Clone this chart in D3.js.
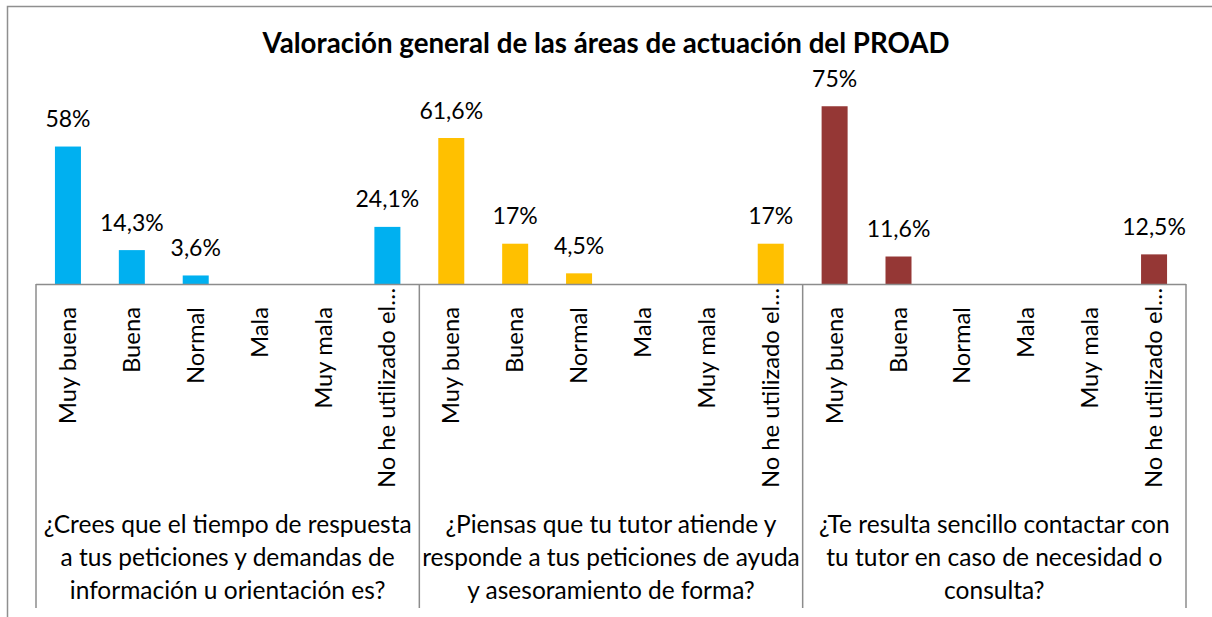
<!DOCTYPE html>
<html>
<head>
<meta charset="utf-8">
<script src="https://cdn.jsdelivr.net/npm/d3@7/dist/d3.min.js"></script>
<style>
  html, body { margin: 0; padding: 0; background: #fff; }
  svg { display: block; }
  text { font-family: Lato, "Open Sans", sans-serif; fill: #000; }
</style>
</head>
<body>
<svg id="chart" width="1212" height="617"></svg>
<script>
// Survey answers, percentage per rating option, one array per question
const title = "Valoración general de las áreas de actuación del PROAD";
const categories = ["Muy buena", "Buena", "Normal", "Mala", "Muy mala", "No he utilizado el…"];
const questions = [
  ["¿Crees que el tiempo de respuesta", "a tus peticiones y demandas de", "información u orientación es?"],
  ["¿Piensas que tu tutor atiende y", "responde a tus peticiones de ayuda", "y asesoramiento de forma?"],
  ["¿Te resulta sencillo contactar con", "tu tutor en caso de necesidad o", "consulta?"]
];
const tiempoRespuesta = [58, 14.3, 3.6, 0, 0, 24.1];
const atencionTutor = [61.6, 17, 4.5, 0, 0, 17];
const contactoTutor = [75, 11.6, 0, 0, 0, 12.5];
const seriesValues = [tiempoRespuesta, atencionTutor, contactoTutor];
const colors = ["#00B0F0", "#FFC000", "#953735"];

const svg = d3.select("#chart");
const axisColor = "#8c8c8c";

// outer chart frame
svg.append("rect")
  .attr("x", 7.5).attr("y", 6.5)
  .attr("width", 1400).attr("height", 800)
  .attr("fill", "none").attr("stroke", "#8f8f8f").attr("stroke-width", 1.5);

svg.append("text")
  .attr("x", 606).attr("y", 53)
  .attr("text-anchor", "middle")
  .style("font-weight", "bold").style("font-size", "27.7px")
  .text(title);

const axisY = 284;
const x0 = d3.scaleBand().domain(d3.range(questions.length)).range([36, 1186]).padding(0);
const x1 = d3.scaleBand().domain(categories).range([0, x0.bandwidth()])
  .paddingInner(0.593).paddingOuter(0.2965);
const y = d3.scaleLinear().domain([0, 100]).range([axisY, 47]);

const fmt = v => String(v).replace(".", ",") + "%";

const groups = svg.selectAll("g.question")
  .data(questions.map((q, i) => ({ q, i, values: seriesValues[i] })))
  .join("g")
  .attr("class", "question")
  .attr("transform", d => `translate(${x0(d.i)},0)`);

// bars
groups.selectAll("rect.bar")
  .data(d => d.values.map((v, j) => ({ v, cat: categories[j], color: colors[d.i] })).filter(e => e.v > 0))
  .join("rect")
  .attr("class", "bar")
  .attr("x", e => x1(e.cat))
  .attr("width", x1.bandwidth())
  .attr("y", e => y(e.v))
  .attr("height", e => axisY - y(e.v))
  .attr("fill", e => e.color);

// value labels
groups.selectAll("text.value")
  .data(d => d.values.map((v, j) => ({ v, cat: categories[j] })).filter(e => e.v > 0))
  .join("text")
  .attr("class", "value")
  .attr("x", e => x1(e.cat) + x1.bandwidth() / 2)
  .attr("y", e => y(e.v) - 19.5)
  .attr("text-anchor", "middle")
  .style("font-size", "23px")
  .text(e => fmt(e.v));

// category labels, rotated; truncated labels sit closer to the axis
groups.selectAll("text.cat")
  .data(categories)
  .join("text")
  .attr("class", "cat")
  .attr("transform", c => `translate(${x1(c) + x1.bandwidth() / 2 + 8},${c.endsWith("…") ? 288 : 307}) rotate(-90)`)
  .attr("text-anchor", "end")
  .style("font-size", "23.8px")
  .text(c => c);

// question labels
groups.each(function (d) {
  const t = d3.select(this).append("text")
    .attr("text-anchor", "middle")
    .style("font-size", "24.5px");
  d.q.forEach((line, k) => {
    t.append("tspan")
      .attr("x", x0.bandwidth() / 2)
      .attr("y", 533 + k * 33)
      .text(line);
  });
});

// horizontal axis and group dividers
svg.append("line")
  .attr("x1", x0.range()[0]).attr("x2", x0.range()[1])
  .attr("y1", axisY + 0.5).attr("y2", axisY + 0.5)
  .attr("stroke", axisColor).attr("stroke-width", 1.5);

const dividers = d3.range(questions.length).map(i => x0(i)).concat([x0.range()[1]]);
svg.selectAll("line.divider")
  .data(dividers)
  .join("line")
  .attr("class", "divider")
  .attr("x1", d => d).attr("x2", d => d)
  .attr("y1", axisY).attr("y2", 608)
  .attr("stroke", axisColor).attr("stroke-width", 1.5);
</script>
</body>
</html>
